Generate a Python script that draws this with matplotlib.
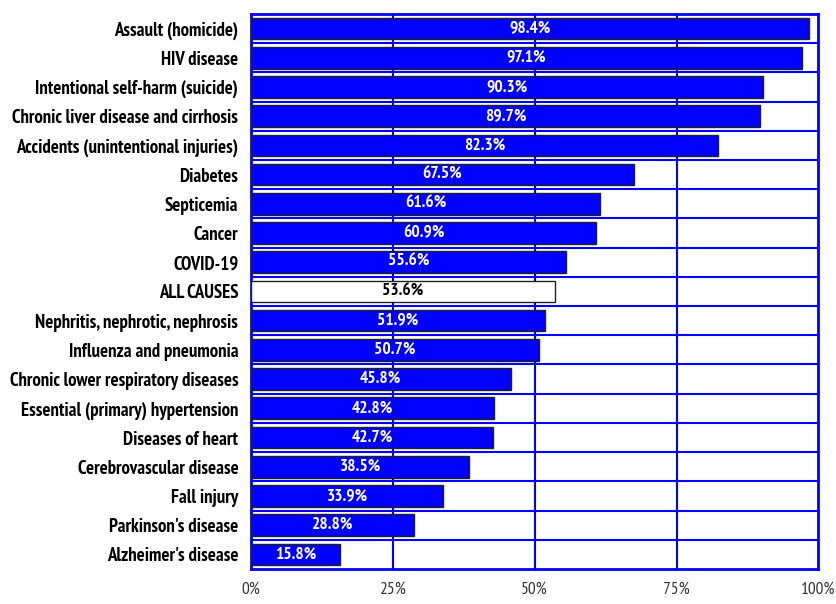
import matplotlib
matplotlib.use('Agg')
import matplotlib.pyplot as plt
import numpy as np

causes = ["Assault (homicide)", "HIV disease", "Intentional self-harm (suicide)",
          "Chronic liver disease and cirrhosis", "Accidents (unintentional injuries)",
          "Diabetes", "Septicemia", "Cancer", "COVID-19", "ALL CAUSES",
          "Nephritis, nephrotic, nephrosis", "Influenza and pneumonia",
          "Chronic lower respiratory diseases", "Essential (primary) hypertension",
          "Diseases of heart", "Cerebrovascular disease", "Fall injury",
          "Parkinson's disease", "Alzheimer's disease"]
pct = [98.4, 97.1, 90.3, 89.7, 82.3, 67.5, 61.6, 60.9, 55.6, 53.6,
       51.9, 50.7, 45.8, 42.8, 42.7, 38.5, 33.9, 28.8, 15.8]
xticks = [0, 25, 50, 75, 100]
xtick_labels = ["0%", "25%", "50%", "75%", "100%"]

fam = ['PT Sans Narrow', 'DejaVu Sans']
blue = '#0000ff'

fig = plt.figure(figsize=(8.36, 6.04), dpi=100)
ax = fig.add_axes([0.300, 0.058, 0.679, 0.919])

y = np.arange(len(causes))
colors = ['white' if c == "ALL CAUSES" else blue for c in causes]
ax.barh(y, pct, height=0.74, color=colors, edgecolor='#222222', linewidth=1.0, zorder=3)

# value labels in middle of each bar
for i, (c, v) in enumerate(zip(causes, pct)):
    tc = 'black' if c == "ALL CAUSES" else 'white'
    ax.text(v / 2, i, f"{v:.1f}%", ha='center', va='center', color=tc,
            fontsize=12.5, fontweight='bold', family=fam, zorder=4)

ax.set_xlim(0, 100)
ax.set_ylim(len(causes) - 0.5, -0.5)
ax.set_yticks(y)
ax.set_yticklabels(causes, fontsize=13.5, fontweight='bold', family=fam)
ax.set_xticks(xticks)
ax.set_xticklabels(xtick_labels, fontsize=12.5, family=fam, color='#333333')
ax.tick_params(length=0)
ax.tick_params(axis='x', pad=9)
ax.tick_params(axis='y', pad=9)

# grid lines: vertical at ticks, horizontal between rows
for xv in xticks[1:-1]:
    ax.axvline(xv, color=blue, lw=1.5, zorder=1)
for b in np.arange(len(causes) - 1) + 0.5:
    ax.axhline(b, color=blue, lw=1.5, zorder=1)

for s in ax.spines.values():
    s.set_color(blue)
    s.set_linewidth(2)

fig.savefig('out.png', dpi=100)
